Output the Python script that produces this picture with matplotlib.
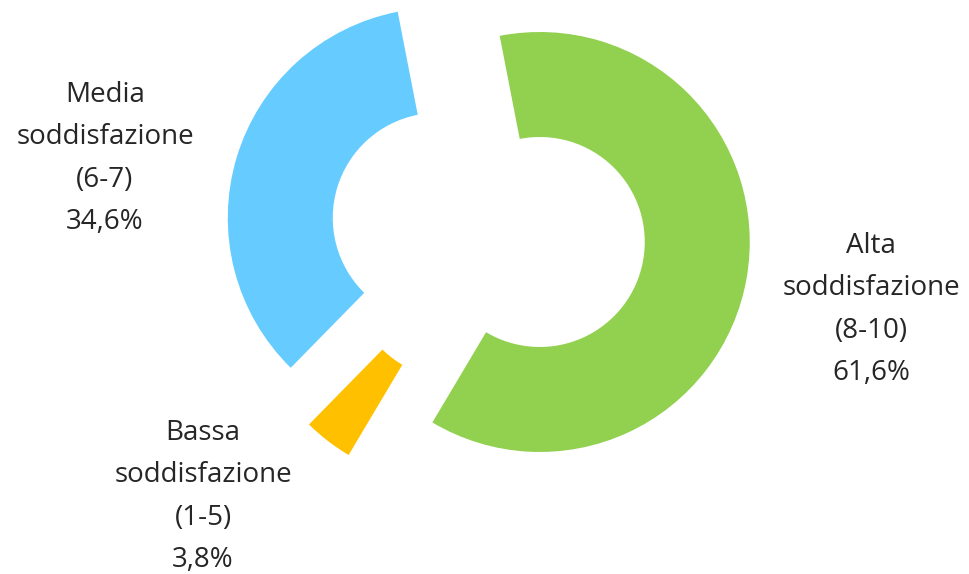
import matplotlib.pyplot as plt

# order: clockwise from the top-left edge of the green slice
categories = ["Alta\nsoddisfazione\n(8-10)", "Bassa\nsoddisfazione\n(1-5)", "Media\nsoddisfazione\n(6-7)"]
values = [61.6, 3.8, 34.6]
pct_labels = ["61,6%", "3,8%", "34,6%"]
colors = ["#92D050", "#FFC000", "#66CCFF"]

# label anchors in data units (pie radius = 1)
label_pos = [(1.824, -0.365), (-1.357, -1.255), (-1.824, 0.355)]

fig = plt.figure(figsize=(9.7, 5.74), dpi=100)
ax = fig.add_axes([0, 0, 1, 1])

ax.pie(values, colors=colors, startangle=101, counterclock=False,
       explode=[0.25] * len(values), radius=1,
       wedgeprops=dict(width=0.5, linewidth=0))

for cat, pct, (x, y) in zip(categories, pct_labels, label_pos):
    ax.text(x, y, cat + "\n" + pct, ha="center", va="center",
            fontsize=20, color="#262626", linespacing=1.68,
            family="Open Sans")

ax.set_xlim(-2.324, 2.295)
ax.set_ylim(-1.624, 1.1095)
ax.set_aspect("equal")
ax.axis("off")

fig.savefig("out.png", dpi=100)
